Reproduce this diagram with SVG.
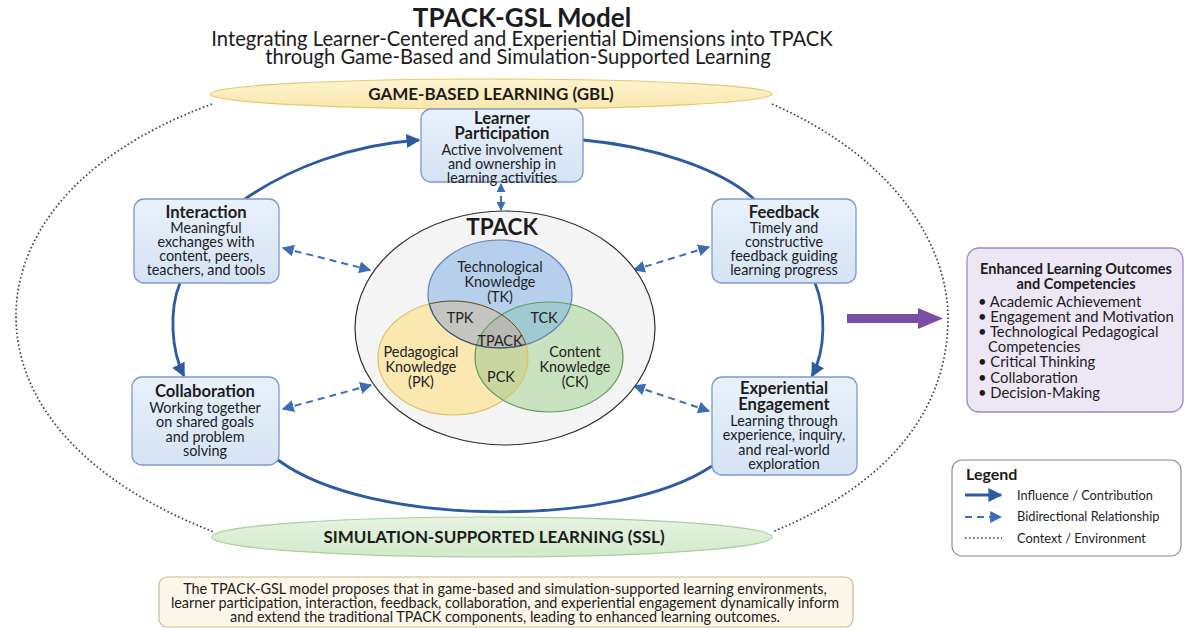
<svg xmlns="http://www.w3.org/2000/svg" width="1186" height="628" viewBox="0 0 1186 628">
  <defs>
    <style>
      text { font-family: Lato, "Open Sans", "Liberation Sans", sans-serif; fill: #1c1c1c; }
      .title { font-size: 26px; font-weight: 700; text-anchor: middle; }
      .sub { font-size: 20.2px; text-anchor: middle; }
      .band { font-size: 17px; font-weight: 700; text-anchor: middle; }
      .nt { font-size: 16.6px; font-weight: 700; text-anchor: middle; }
      .nb { font-size: 14.4px; text-anchor: middle; }
      .vt { font-size: 14.4px; text-anchor: middle; fill: #222; }
      .node { fill: url(#nodeFill); stroke: #7b9acb; stroke-width: 1.3; }
      .flow { fill: none; stroke: #2c5aa3; stroke-width: 2.8; }
      .bidi { fill: none; stroke: #3a6db5; stroke-width: 2; stroke-dasharray: 7 5; }
      .ctx { fill: none; stroke: #34405e; stroke-width: 1.7; stroke-dasharray: 1.6 2.4; }
      .out { font-size: 14.8px; }
      .leg { font-size: 12.8px; }
      .sum { font-size: 14.4px; text-anchor: middle; }
    </style>
    <linearGradient id="nodeFill" x1="0" y1="0" x2="0" y2="1">
      <stop offset="0" stop-color="#e9f1fb"/>
      <stop offset="1" stop-color="#d4e3f5"/>
    </linearGradient>
    <linearGradient id="gblFill" x1="0" y1="0" x2="0" y2="1">
      <stop offset="0" stop-color="#fdf3cf"/>
      <stop offset="1" stop-color="#fae7ad"/>
    </linearGradient>
    <linearGradient id="sslFill" x1="0" y1="0" x2="0" y2="1">
      <stop offset="0" stop-color="#e6f3e0"/>
      <stop offset="1" stop-color="#d3eacb"/>
    </linearGradient>
    <marker id="solidHead" viewBox="0 0 10 10" refX="9" refY="5" markerWidth="5" markerHeight="5" markerUnits="strokeWidth" orient="auto">
      <path d="M0,0 L10,5 L0,10 z" fill="#2c5aa3"/>
    </marker>
    <marker id="dashHead" viewBox="0 0 10 10" refX="9" refY="5" markerWidth="6" markerHeight="6" markerUnits="strokeWidth" orient="auto-start-reverse">
      <path d="M0,0 L10,5 L0,10 z" fill="#3a6db5"/>
    </marker>
    <marker id="smallHead" viewBox="0 0 10 10" refX="9" refY="5" markerWidth="4.5" markerHeight="4.5" markerUnits="strokeWidth" orient="auto-start-reverse">
      <path d="M0,0 L10,5 L0,10 z" fill="#3a6db5"/>
    </marker>
    <clipPath id="clipTK"><ellipse cx="500" cy="294" rx="72" ry="54"/></clipPath>
    <clipPath id="clipPK"><ellipse cx="453" cy="358" rx="75" ry="57"/></clipPath>
  </defs>

  <rect width="1186" height="628" fill="#ffffff"/>

  <!-- heading -->
  <g id="heading">
    <text class="title" x="522" y="27">TPACK-GSL Model</text>
    <text class="sub" x="522" y="46">Integrating Learner-Centered and Experiential Dimensions into TPACK</text>
    <text class="sub" x="518" y="64">through Game-Based and Simulation-Supported Learning</text>
  </g>

  <!-- learning environment context -->
  <g id="context">
    <path class="ctx" d="M212,104 C60,160 15,250 16,318 C17,400 80,480 214,532"/>
    <path class="ctx" d="M772,104 C900,160 948,250 948,318 C948,400 900,480 772,532"/>
  </g>

  <g id="gbl">
    <ellipse cx="491" cy="94" rx="281" ry="15" fill="url(#gblFill)" stroke="#e6c86e" stroke-width="1.2"/>
    <text class="band" x="491" y="100">GAME-BASED LEARNING (GBL)</text>
  </g>

  <g id="ssl">
    <ellipse cx="492" cy="537" rx="280" ry="20" fill="url(#sslFill)" stroke="#a9cf9f" stroke-width="1.2"/>
    <text class="band" x="494" y="543">SIMULATION-SUPPORTED LEARNING (SSL)</text>
  </g>

  <!-- connectors -->
  <g id="connectors">
    <path class="flow" d="M245,199 C290,168 350,145 419,140" marker-end="url(#solidHead)"/>
    <path class="flow" d="M583,140 C650,146 720,168 754,199"/>
    <path class="flow" d="M815,283 C826,310 826,350 812,376" marker-end="url(#solidHead)"/>
    <path class="flow" d="M180,283 C169,310 171,350 184,376" marker-end="url(#solidHead)"/>
    <path class="flow" d="M278,460 C370,528 620,528 712,466"/>

    <path class="bidi" d="M501,184 L501,210" marker-start="url(#smallHead)" marker-end="url(#smallHead)" stroke-dasharray="5 4"/>
    <path class="bidi" d="M283,248 L370,270" marker-start="url(#dashHead)" marker-end="url(#dashHead)"/>
    <path class="bidi" d="M709,247 L634,270" marker-start="url(#dashHead)" marker-end="url(#dashHead)"/>
    <path class="bidi" d="M283,409 L371,385" marker-start="url(#dashHead)" marker-end="url(#dashHead)"/>
    <path class="bidi" d="M709,411 L634,386" marker-start="url(#dashHead)" marker-end="url(#dashHead)"/>

    <path d="M847,314 L918,314 L918,308 L943,318.5 L918,329 L918,323 L847,323 z" fill="#7a4ea6"/>
  </g>

  <!-- TPACK core -->
  <g id="tpack">
    <ellipse cx="505" cy="328" rx="150" ry="117" fill="#f4f4f4" stroke="#2e2e2e" stroke-width="1.2"/>
    <text x="502" y="235" font-size="22.5" font-weight="700" text-anchor="middle">TPACK</text>
    <ellipse cx="500" cy="294" rx="72" ry="54" fill="#b5cfec"/>
    <ellipse cx="453" cy="358" rx="75" ry="57" fill="#fbe8b0"/>
    <ellipse cx="549" cy="357" rx="74" ry="55" fill="#c8e2c0"/>
    <ellipse cx="453" cy="358" rx="75" ry="57" fill="#c4c4c1" clip-path="url(#clipTK)"/>
    <ellipse cx="549" cy="357" rx="74" ry="55" fill="#a1c9d1" clip-path="url(#clipTK)"/>
    <ellipse cx="549" cy="357" rx="74" ry="55" fill="#cad69f" clip-path="url(#clipPK)"/>
    <g clip-path="url(#clipTK)">
      <ellipse cx="549" cy="357" rx="74" ry="55" fill="#b8b8b4" clip-path="url(#clipPK)"/>
    </g>
    <ellipse cx="500" cy="294" rx="72" ry="54" fill="none" stroke="#5f82b8" stroke-width="1.2"/>
    <ellipse cx="453" cy="358" rx="75" ry="57" fill="none" stroke="#dfc063" stroke-width="1.2"/>
    <ellipse cx="549" cy="357" rx="74" ry="55" fill="none" stroke="#5e9a58" stroke-width="1.2"/>
    <ellipse cx="500" cy="294" rx="72" ry="54" fill="none" stroke="#4a4a4a" stroke-width="1" clip-path="url(#clipPK)"/>
    <ellipse cx="453" cy="358" rx="75" ry="57" fill="none" stroke="#4a4a4a" stroke-width="1" clip-path="url(#clipTK)"/>

    <text class="vt" x="500" y="272">Technological</text>
    <text class="vt" x="500" y="287">Knowledge</text>
    <text class="vt" x="500" y="302">(TK)</text>
    <text class="vt" x="460" y="323">TPK</text>
    <text class="vt" x="544" y="323">TCK</text>
    <text class="vt" x="500" y="346">TPACK</text>
    <text class="vt" x="421" y="357">Pedagogical</text>
    <text class="vt" x="421" y="372">Knowledge</text>
    <text class="vt" x="421" y="387">(PK)</text>
    <text class="vt" x="501" y="382">PCK</text>
    <text class="vt" x="575" y="357">Content</text>
    <text class="vt" x="575" y="372">Knowledge</text>
    <text class="vt" x="575" y="387">(CK)</text>
  </g>

  <!-- learner-centred dimensions -->
  <g id="learner-participation">
    <rect class="node" x="421" y="109" width="162" height="73" rx="10"/>
    <text class="nt" x="502" y="124">Learner</text>
    <text class="nt" x="502" y="139">Participation</text>
    <text class="nb" x="502" y="155">Active involvement</text>
    <text class="nb" x="502" y="169">and ownership in</text>
    <text class="nb" x="502" y="183">learning activities</text>
  </g>

  <g id="interaction">
    <rect class="node" x="134" y="199" width="145" height="84" rx="10"/>
    <text class="nt" x="206" y="218">Interaction</text>
    <text class="nb" x="206" y="233">Meaningful</text>
    <text class="nb" x="206" y="247">exchanges with</text>
    <text class="nb" x="206" y="261">content, peers,</text>
    <text class="nb" x="206" y="275">teachers, and tools</text>
  </g>

  <g id="feedback">
    <rect class="node" x="712" y="199" width="144" height="84" rx="10"/>
    <text class="nt" x="784" y="218">Feedback</text>
    <text class="nb" x="784" y="233">Timely and</text>
    <text class="nb" x="784" y="247">constructive</text>
    <text class="nb" x="784" y="261">feedback guiding</text>
    <text class="nb" x="784" y="275">learning progress</text>
  </g>

  <g id="collaboration">
    <rect class="node" x="132" y="377" width="147" height="88" rx="10"/>
    <text class="nt" x="205" y="397">Collaboration</text>
    <text class="nb" x="205" y="413">Working together</text>
    <text class="nb" x="205" y="427">on shared goals</text>
    <text class="nb" x="205" y="442">and problem</text>
    <text class="nb" x="205" y="456">solving</text>
  </g>

  <g id="experiential-engagement">
    <rect class="node" x="712" y="377" width="145" height="98" rx="10"/>
    <text class="nt" x="784" y="394">Experiential</text>
    <text class="nt" x="784" y="410">Engagement</text>
    <text class="nb" x="784" y="426">Learning through</text>
    <text class="nb" x="784" y="440">experience, inquiry,</text>
    <text class="nb" x="784" y="455">and real-world</text>
    <text class="nb" x="784" y="469">exploration</text>
  </g>

  <!-- outcomes -->
  <g id="outcomes">
    <rect x="967" y="248" width="216" height="164" rx="12" fill="#ede7f5" stroke="#9c8bbd" stroke-width="1.3"/>
    <text x="1076" y="274" font-size="14.5" font-weight="700" text-anchor="middle">Enhanced Learning Outcomes</text>
    <text x="1076" y="289" font-size="14.5" font-weight="700" text-anchor="middle">and Competencies</text>
    <text class="out" x="978" y="307">• Academic Achievement</text>
    <text class="out" x="978" y="322">• Engagement and Motivation</text>
    <text class="out" x="978" y="337">• Technological Pedagogical</text>
    <text class="out" x="988" y="352">Competencies</text>
    <text class="out" x="978" y="367">• Critical Thinking</text>
    <text class="out" x="978" y="383">• Collaboration</text>
    <text class="out" x="978" y="398">• Decision-Making</text>
  </g>

  <!-- legend -->
  <g id="legend">
    <rect x="952" y="460" width="229" height="96" rx="10" fill="#ffffff" stroke="#8c8c8c" stroke-width="1.2"/>
    <text x="966" y="480" font-size="16" font-weight="700">Legend</text>
    <path d="M965,495 L1001,495" class="flow" stroke-width="2.5" marker-end="url(#solidHead)"/>
    <text class="leg" x="1017" y="500">Influence / Contribution</text>
    <path d="M965,517 L1001,517" class="bidi" stroke-dasharray="6 4" marker-end="url(#dashHead)"/>
    <text class="leg" x="1017" y="521">Bidirectional Relationship</text>
    <path d="M965,538 L1002,538" class="ctx"/>
    <text class="leg" x="1017" y="543">Context / Environment</text>
  </g>

  <!-- summary -->
  <g id="summary">
    <rect x="159" y="577" width="694" height="50" rx="8" fill="#fcf7e9" stroke="#c8bc96" stroke-width="1.2"/>
    <text class="sum" x="505" y="594">The TPACK-GSL model proposes that in game-based and simulation-supported learning environments,</text>
    <text class="sum" x="505" y="608">learner participation, interaction, feedback, collaboration, and experiential engagement dynamically inform</text>
    <text class="sum" x="505" y="622">and extend the traditional TPACK components, leading to enhanced learning outcomes.</text>
  </g>
</svg>
